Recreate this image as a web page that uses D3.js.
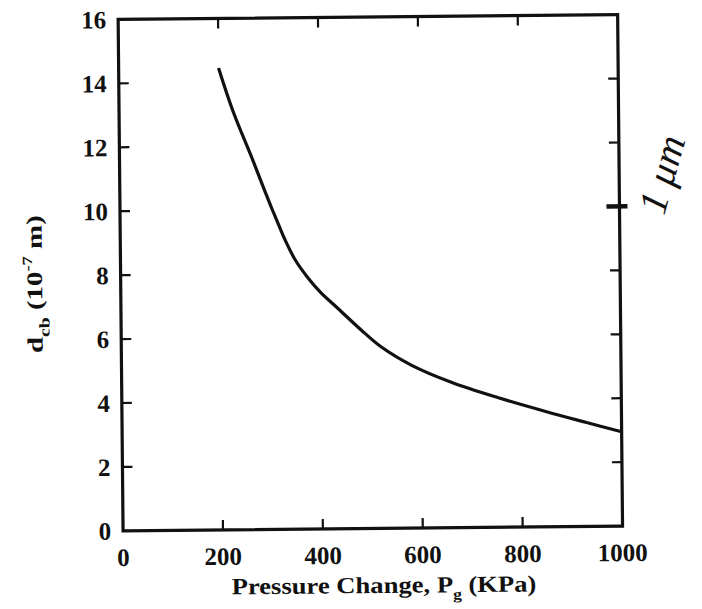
<!DOCTYPE html>
<html>
<head>
<meta charset="utf-8">
<script src="https://cdn.jsdelivr.net/npm/d3@7"></script>
<style>
  html, body { margin: 0; padding: 0; background: #fff; }
  svg { display: block; }
  text { font-family: "Liberation Serif", "Times New Roman", serif; fill: #111; }
</style>
</head>
<body>
<svg id="chart" width="702" height="609"></svg>
<script>
// Pressure change (KPa) and critical bubble diameter (10^-7 m)
const pressure = [200, 228, 267, 290, 305, 318, 330, 350, 374, 400, 434, 480, 520, 580, 660, 754, 850, 930, 1000];
const diameter = [14.45, 13.1, 11.55, 10.6, 10.0, 9.5, 9.05, 8.42, 7.88, 7.4, 6.9, 6.22, 5.68, 5.1, 4.55, 4.05, 3.6, 3.25, 2.95];

const xTicks = [0, 200, 400, 600, 800, 1000];
const yTicks = [0, 2, 4, 6, 8, 10, 12, 14, 16];

const plot = { left: 120.6, right: 620.1, top: 17, bottom: 528.5 };

const svg = d3.select("#chart");
// whole figure sits slightly tilted, as on the printed page
const g = svg.append("g")
  .attr("transform", `rotate(-0.55, ${(plot.left + plot.right) / 2}, ${(plot.top + plot.bottom) / 2})`);

const x = d3.scaleLinear().domain([0, 1000]).range([plot.left, plot.right]);
const y = d3.scaleLinear().domain([0, 16]).range([plot.bottom, plot.top]);

const tickLen = 10;
const inner = (t, lo, hi) => t !== lo && t !== hi;

// inward ticks on all four sides
const ax = g.append("g").attr("stroke", "#111").attr("stroke-width", 2.2);
xTicks.filter(t => inner(t, 0, 1000)).forEach(t => {
  ax.append("line").attr("x1", x(t)).attr("x2", x(t)).attr("y1", y(0)).attr("y2", y(0) - tickLen);
  ax.append("line").attr("x1", x(t)).attr("x2", x(t)).attr("y1", y(16)).attr("y2", y(16) + tickLen);
});
yTicks.filter(t => inner(t, 0, 16)).forEach(t => {
  ax.append("line").attr("x1", x(0)).attr("x2", x(0) + tickLen).attr("y1", y(t)).attr("y2", y(t));
  ax.append("line").attr("x1", x(1000)).attr("x2", x(1000) - tickLen).attr("y1", y(t)).attr("y2", y(t));
});

// frame
g.append("rect")
  .attr("x", x(0)).attr("y", y(16))
  .attr("width", x(1000) - x(0)).attr("height", y(0) - y(16))
  .attr("fill", "none").attr("stroke", "#111").attr("stroke-width", 3.2);

// tick labels
g.append("g").selectAll("text").data(xTicks).join("text")
  .attr("x", d => x(d)).attr("y", plot.bottom + 35)
  .attr("text-anchor", "middle")
  .attr("font-size", 25).attr("font-weight", "bold")
  .text(d => d);

g.append("g").selectAll("text").data(yTicks).join("text")
  .attr("x", plot.left - 12).attr("y", d => y(d))
  .attr("dy", "0.35em")
  .attr("text-anchor", "end")
  .attr("font-size", 25).attr("font-weight", "bold")
  .text(d => d);

// stretch a title along its own direction to the wide typeface width
function fitWidth(sel, width) {
  const w = sel.node().getBBox().width;
  return width / w;
}

// x axis title
const xg = g.append("g");
const xt = xg.append("text")
  .attr("text-anchor", "middle")
  .attr("font-size", 23).attr("font-weight", "bold");
xt.append("tspan").text("Pressure Change, P");
xt.append("tspan").attr("font-size", 15).attr("dy", 7).text("g");
xt.append("tspan").attr("dy", -7).text(" (KPa)");
xg.attr("transform", `translate(381, 593) scale(${fitWidth(xt, 305)}, 1)`);

// y axis title
const yg = g.append("g");
const yt = yg.append("text")
  .attr("text-anchor", "middle")
  .attr("font-size", 22).attr("font-weight", "bold");
yt.append("tspan").text("d");
yt.append("tspan").attr("font-size", 15).attr("dy", 7).text("cb");
yt.append("tspan").attr("dy", -7).text(" (10");
yt.append("tspan").attr("font-size", 14).attr("dy", -10).text("-7");
yt.append("tspan").attr("dy", 10).text(" m)");
yg.attr("transform", `translate(42, 281) rotate(-90) scale(${fitWidth(yt, 138)}, 1)`);

// curve
const line = d3.line()
  .x((d, i) => x(pressure[i]))
  .y(d => y(d))
  .curve(d3.curveCatmullRom.alpha(0.5));

g.append("path")
  .datum(diameter)
  .attr("d", line)
  .attr("fill", "none")
  .attr("stroke", "#111")
  .attr("stroke-width", 3.2)
  .attr("stroke-linecap", "butt");

// pen mark at 10 on the right axis with the note "1 μm"
g.append("line")
  .attr("x1", x(1000) - 13).attr("x2", x(1000) + 8)
  .attr("y1", y(10)).attr("y2", y(10))
  .attr("stroke", "#111").attr("stroke-width", 4.5);

svg.append("text")
  .attr("transform", "translate(664, 216) rotate(-74)")
  .attr("font-family", "'DejaVu Serif', serif")
  .attr("font-style", "italic")
  .attr("font-size", 40)
  .attr("fill", "#111")
  .text("1 μm");
</script>
</body>
</html>
